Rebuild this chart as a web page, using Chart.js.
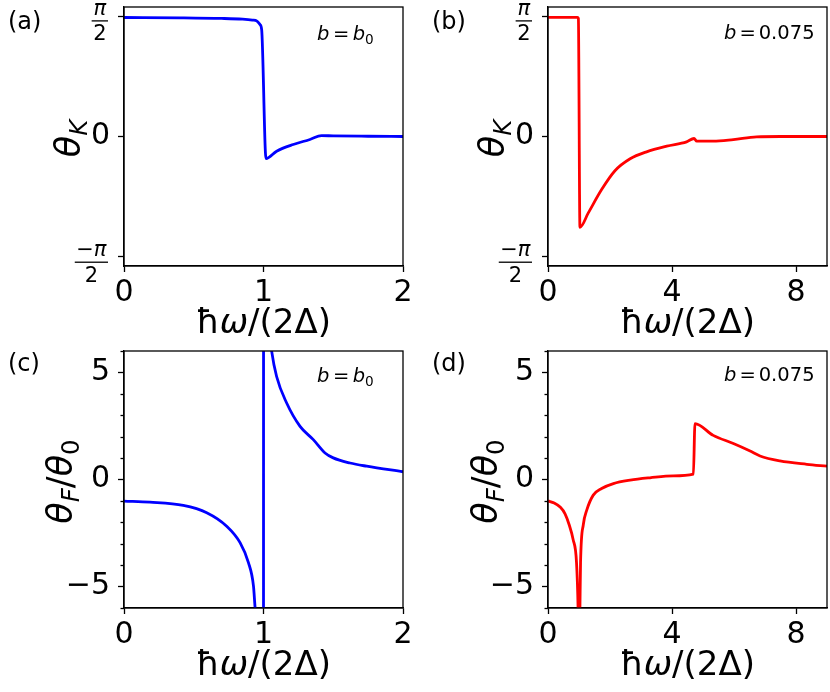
<!DOCTYPE html>
<html>
<head>
<meta charset="utf-8">
<script src="https://cdn.jsdelivr.net/npm/chart.js@4.4.0/dist/chart.umd.min.js"></script>
<style>
html, body { margin: 0; padding: 0; background: #fff; }
#wrap { position: relative; width: 830px; height: 692px; }
.panel { position: absolute; width: 415px; height: 346px; }
</style>
</head>
<body>
<div id="wrap">
  <div class="panel" style="left:0;top:0"><canvas id="pa" width="415" height="346"></canvas></div>
  <div class="panel" style="left:415px;top:0"><canvas id="pb" width="415" height="346"></canvas></div>
  <div class="panel" style="left:0;top:346px"><canvas id="pc" width="415" height="346"></canvas></div>
  <div class="panel" style="left:415px;top:346px"><canvas id="pd" width="415" height="346"></canvas></div>
</div>
<script>
// --- data ---
// (a) Kerr angle, b = b0
const kerrB0X = [0, 0.4, 0.7, 0.85, 0.92, 0.953, 0.975, 0.987, 1.018, 1.094, 1.213, 1.333, 1.416, 1.5, 1.75, 2.0];
const kerrB0Y = [1.562, 1.558, 1.550, 1.540, 1.528, 1.515, 1.47, 1.40, -0.29, -0.193, -0.105, -0.039, 0.012, 0.008, 0.003, 0.0];
// (b) Kerr angle, b = 0.075
const kerrBX = [0, 0.5, 0.95, 0.98, 1.03, 1.30, 1.73, 2.16, 2.65, 3.18, 3.83, 4.47, 4.71, 4.80, 5.33, 5.98, 6.73, 7.5, 9.0];
const kerrBY = [1.565, 1.565, 1.565, 1.55, -1.192, -1.003, -0.697, -0.45, -0.293, -0.201, -0.127, -0.07, -0.026, -0.062, -0.062, -0.04, -0.004, 0.0, 0.0];
// (c) Faraday angle, b = b0 (values beyond +-6 are off the plot)
const farB0X = [0, 0.186, 0.425, 0.593, 0.736, 0.832, 0.892, 0.928, 0.94, 0.96, 0.999, 1.001, 1.01, 1.03, 1.045, 1.059, 1.094, 1.166, 1.262, 1.357, 1.441, 1.5, 1.62, 1.74, 2.0];
const farB0Y = [-1.01, -1.06, -1.21, -1.55, -2.18, -2.95, -3.88, -4.97, -6, -9, -60, 41, 13.8, 8.2, 6.8, 5.97, 4.81, 3.57, 2.48, 1.86, 1.24, 1.01, 0.77, 0.62, 0.36];
// (d) Faraday angle, b = 0.075
const farBX = [0, 0.2, 0.4, 0.55, 0.68, 0.81, 0.92, 0.97, 1.0, 1.03, 1.05, 1.14, 1.25, 1.46, 1.73, 2.11, 2.65, 3.29, 4.04, 4.69, 4.74, 5.33, 5.98, 6.52, 6.84, 7.48, 8.35, 9.0];
const farBY = [-1.0, -1.1, -1.3, -1.6, -2.1, -2.8, -3.88, -6, -9, -6, -3.88, -2.1, -1.43, -0.73, -0.42, -0.19, -0.03, 0.08, 0.17, 0.25, 2.61, 2.06, 1.68, 1.33, 1.10, 0.87, 0.71, 0.62];

const xTicksNarrow = [0, 1, 2];
const xTicksWide = [0, 4, 8];
const yTicksKerr = [-Math.PI / 2, 0, Math.PI / 2];
const yTicksFar = [-5, 0, 5];
const yMinorFar = [-6, -4, -3, -2, -1, 1, 2, 3, 4, 6];

Chart.defaults.font.family = "'DejaVu Sans', sans-serif";
Chart.defaults.color = '#000';

const FONT = "'DejaVu Sans'";

// draw a run of text pieces, some italic, some subscript, some plain gaps
function runWidth(ctx, runs, size) {
    let w = 0;
    runs.forEach(r => {
        if (r.gap) { w += r.gap; return; }
        const s = r.sub ? size * 0.7 : size;
        ctx.font = (r.it ? 'italic ' : '') + s + 'px ' + FONT;
        w += ctx.measureText(r.t).width;
    });
    return w;
}
function drawRuns(ctx, runs, x, y, size) {
    runs.forEach(r => {
        if (r.gap) { x += r.gap; return; }
        const s = r.sub ? size * 0.7 : size;
        ctx.font = (r.it ? 'italic ' : '') + s + 'px ' + FONT;
        ctx.fillText(r.t, x, r.sub ? y + size * 0.2 : y);
        x += ctx.measureText(r.t).width;
    });
}

const decorPlugin = {
    id: 'decor',
    afterDraw(chart, args, o) {
        const ctx = chart.ctx;
        const a = chart.chartArea;
        const ys = chart.scales.y;
        ctx.save();
        ctx.fillStyle = '#000';
        ctx.strokeStyle = '#000';
        ctx.lineWidth = 1.3;
        ctx.strokeRect(a.left, a.top, a.right - a.left, a.bottom - a.top);
        ctx.textAlign = 'left';
        ctx.textBaseline = 'alphabetic';

        // minor ticks
        if (o.kind === 'far') {
            yMinorFar.forEach(v => {
                const py = Math.round(ys.getPixelForValue(v)) + 0.5;
                ctx.beginPath();
                ctx.moveTo(a.left - 3.5, py);
                ctx.lineTo(a.left, py);
                ctx.stroke();
            });
        }

        // fraction tick labels for the Kerr panels
        if (o.kind === 'kerr') {
            [-1, 1].forEach(sg => {
                const py = ys.getPixelForValue(sg * Math.PI / 2);
                const num = sg < 0 ? [{t: '−'}, {t: 'π', it: true}] : [{t: 'π', it: true}];
                const den = [{t: '2'}];
                const nw = runWidth(ctx, num, 21);
                const dw = runWidth(ctx, den, 21);
                const bw = Math.max(nw, dw) + 3;
                const right = a.left - 16;
                const cx = right - bw / 2;
                const bar = py + (sg < 0 ? 6 : 4);
                ctx.fillRect(right - bw, bar - 0.6, bw, 1.3);
                drawRuns(ctx, num, cx - nw / 2, bar - 6, 21);
                drawRuns(ctx, den, cx - dw / 2, bar + 19.5, 21);
            });
        }

        // panel label
        ctx.font = '24px ' + FONT;
        ctx.fillText(o.label, o.labelX, o.labelY);

        // annotation
        drawRuns(ctx, o.ann, o.annX, o.annY, 19.5);

        // x title
        const xt = [{t: 'ħ'}, {t: 'ω', it: true}, {t: '/(2Δ)'}];
        const xw = runWidth(ctx, xt, 34);
        drawRuns(ctx, xt, (a.left + a.right) / 2 - xw / 2, o.xTitleY, 34);

        // y title, rotated
        const yw = runWidth(ctx, o.yTitle, 35);
        ctx.translate(o.yTitleX, (a.top + a.bottom) / 2 + 2);
        ctx.rotate(-Math.PI / 2);
        drawRuns(ctx, o.yTitle, -yw / 2, 0, 35);
        ctx.restore();
    }
};

function makePanel(id, p) {
    const far = p.kind === 'far';
    return new Chart(document.getElementById(id), {
        type: 'line',
        data: {
            datasets: [{
                data: p.xs.map((x, i) => ({x: x, y: p.ys[i]})),
                borderColor: p.color,
                borderWidth: 2.8,
                pointRadius: 0,
                fill: false,
                cubicInterpolationMode: 'monotone',
                clip: 0
            }]
        },
        plugins: [decorPlugin],
        options: {
            responsive: false,
            animation: false,
            layout: {
                padding: {top: p.padTop, right: p.padRight, left: 0, bottom: 0}
            },
            scales: {
                x: {
                    type: 'linear',
                    min: 0,
                    max: p.xMax,
                    afterBuildTicks: ax => { ax.ticks = p.xTicks.map(v => ({value: v})); },
                    afterFit: ax => { ax.height = p.bottomH; ax.paddingLeft = 0; ax.paddingRight = 0; },
                    grid: {drawOnChartArea: false, drawTicks: true, tickLength: 6, tickColor: '#000', tickWidth: 1.3},
                    border: {display: true, color: '#000', width: 1.3},
                    ticks: {color: '#000', font: {size: 30}, padding: 3, maxRotation: 0,
                        callback: v => String(v)}
                },
                y: {
                    type: 'linear',
                    min: far ? -6 : -1.7,
                    max: far ? 6 : 1.7,
                    afterBuildTicks: ax => {
                        ax.ticks = (far ? yTicksFar : yTicksKerr).map(v => ({value: v}));
                    },
                    afterFit: ax => { ax.width = p.leftW; ax.paddingTop = 0; ax.paddingBottom = 0; },
                    grid: {drawOnChartArea: false, drawTicks: true, tickLength: 6, tickColor: '#000', tickWidth: 1.3},
                    border: {display: true, color: '#000', width: 1.3},
                    ticks: {color: '#000', font: {size: 30}, padding: 8,
                        callback: v => {
                            if (!far) return Math.abs(v) < 1e-9 ? '0' : '';
                            return v < 0 ? '−' + Math.abs(v) : String(v);
                        }}
                }
            },
            plugins: {
                legend: {display: false},
                tooltip: {enabled: false},
                decor: p.decor
            }
        }
    });
}

const annB0 = [{t: 'b', it: true}, {gap: 3.5}, {t: '='}, {gap: 3.5}, {t: 'b', it: true}, {t: '0', sub: true}];
const annB = [{t: 'b', it: true}, {gap: 3}, {t: '='}, {gap: 3}, {t: '0.075'}];
const titleK = [{t: 'θ', it: true}, {t: 'K', it: true, sub: true}];
const titleF = [{t: 'θ', it: true}, {t: 'F', it: true, sub: true}, {t: '/'}, {t: 'θ', it: true}, {t: '0', sub: true}];

makePanel('pa', {
    xs: kerrB0X, ys: kerrB0Y, color: '#0000ff', kind: 'kerr',
    xMax: 2, xTicks: xTicksNarrow, padTop: 7, padRight: 12, leftW: 124, bottomH: 80,
    decor: {kind: 'kerr', label: '(a)', labelX: 8, labelY: 28.5, ann: annB0, annX: 317, annY: 40,
        xTitleY: 333, yTitle: titleK, yTitleX: 80}
});
makePanel('pb', {
    xs: kerrBX, ys: kerrBY, color: '#ff0000', kind: 'kerr',
    xMax: 9, xTicks: xTicksWide, padTop: 7, padRight: 3, leftW: 133, bottomH: 80,
    decor: {kind: 'kerr', label: '(b)', labelX: 17, labelY: 28.5, ann: annB, annX: 309, annY: 39,
        xTitleY: 333, yTitle: titleK, yTitleX: 89}
});
makePanel('pc', {
    xs: farB0X, ys: farB0Y, color: '#0000ff', kind: 'far',
    xMax: 2, xTicks: xTicksNarrow, padTop: 5, padRight: 12, leftW: 124, bottomH: 84,
    decor: {kind: 'far', label: '(c)', labelX: 8, labelY: 25, ann: annB0, annX: 317, annY: 36,
        xTitleY: 329, yTitle: titleF, yTitleX: 72}
});
makePanel('pd', {
    xs: farBX, ys: farBY, color: '#ff0000', kind: 'far',
    xMax: 9, xTicks: xTicksWide, padTop: 5, padRight: 3, leftW: 133, bottomH: 84,
    decor: {kind: 'far', label: '(d)', labelX: 17, labelY: 25, ann: annB, annX: 309, annY: 35,
        xTitleY: 329, yTitle: titleF, yTitleX: 82}
});
</script>
</body>
</html>
